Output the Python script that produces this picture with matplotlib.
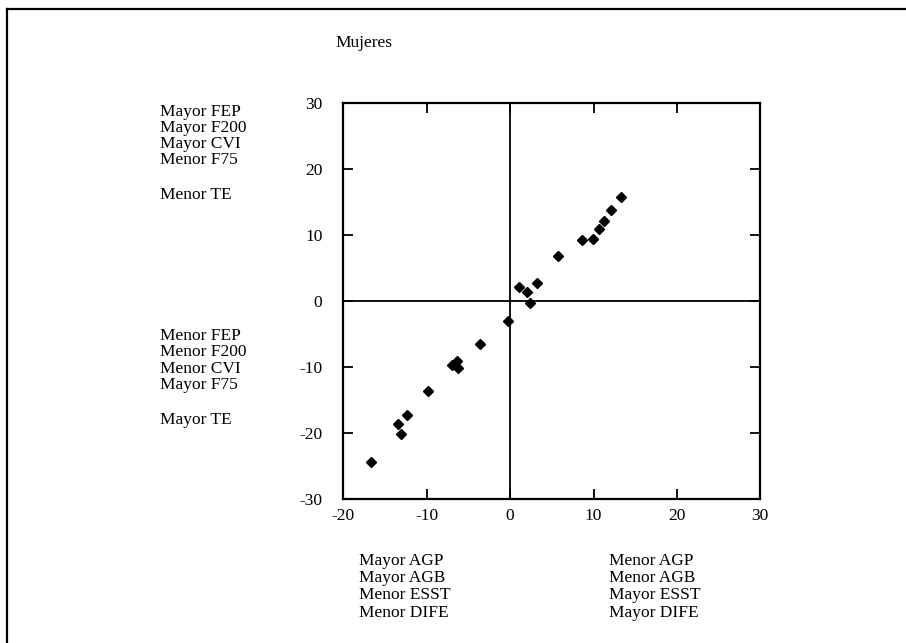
import matplotlib
matplotlib.use("Agg")
import matplotlib.pyplot as plt
from matplotlib.lines import Line2D

# ---- data ----
x_vals = [13.3, 12.06, 11.2, 10.6, 9.9, 8.66, 5.74, 3.19, 1.03, 2.06, 2.35,
          -0.3, -3.61, -6.33, -6.93, -6.25, -9.88, -12.33, -13.48, -13.08, -16.64]
y_vals = [15.7, 13.8, 12.15, 10.85, 9.4, 9.2, 6.85, 2.7, 2.16, 1.3, -0.26,
          -2.98, -6.5, -9.12, -9.68, -10.18, -13.57, -17.29, -18.65, -20.17, -24.4]
x_ticks = [-20, -10, 0, 10, 20, 30]
y_ticks = [-30, -20, -10, 0, 10, 20, 30]
title = "Mujeres"
left_top = ["Mayor FEP", "Mayor F200", "Mayor CVI", "Menor F75"]
left_top2 = "Menor TE"
left_bot = ["Menor FEP", "Menor F200", "Menor CVI", "Mayor F75"]
left_bot2 = "Mayor TE"
bottom_left = ["Mayor AGP", "Mayor AGB", "Menor ESST", "Menor DIFE"]
bottom_right = ["Menor AGP", "Menor AGB", "Mayor ESST", "Mayor DIFE"]

plt.rcParams['font.family'] = ['Liberation Serif', 'DejaVu Serif']
FS = 12.5
W, H = 906, 643

fig = plt.figure(figsize=(W / 100, H / 100), dpi=100)
ax = fig.add_axes([343.3 / W, 1 - 499.3 / H, (760.3 - 343.3) / W, (499.3 - 102.7) / H])

ax.set_xlim(-20, 30)
ax.set_ylim(-30, 30)
ax.axhline(0, color='black', lw=1.3, zorder=1)
ax.axvline(0, color='black', lw=1.3, zorder=1)
ax.plot(x_vals, y_vals, linestyle='none', marker='D', markersize=4.6,
        color='black', zorder=3)

ax.set_xticks(x_ticks)
ax.set_yticks(y_ticks)
ax.set_xticklabels([str(v) for v in x_ticks], fontsize=FS)
ax.set_yticklabels([str(v) for v in y_ticks], fontsize=FS)
ax.tick_params(axis='x', direction='in', length=7, width=1.3, top=True,
               bottom=True, pad=6)
ax.tick_params(axis='y', direction='in', length=7, width=1.3, left=True,
               right=True, pad=15)
for s in ax.spines.values():
    s.set_linewidth(1.6)

def ftext(px, py, s, **kw):
    fig.text(px / W, 1 - py / H, s, fontsize=FS, va='center', ha='left', **kw)

ftext(335, 43, title)
for i, s in enumerate(left_top):
    ftext(160, 111.7 + i * 16.1, s)
ftext(160, 195, left_top2)
for i, s in enumerate(left_bot):
    ftext(160, 336 + i * 16.3, s)
ftext(160, 420, left_bot2)
for i, s in enumerate(bottom_left):
    ftext(359, 561 + i * 17.2, s)
for i, s in enumerate(bottom_right):
    ftext(609, 561 + i * 17.2, s)

# outer frame (top and left edges)
fig.add_artist(Line2D([7 / W, 1.0], [1 - 9 / H, 1 - 9 / H], color='black',
                      lw=1.6, transform=fig.transFigure))
fig.add_artist(Line2D([7 / W, 7 / W], [0.0, 1 - 9 / H], color='black',
                      lw=1.6, transform=fig.transFigure))

fig.savefig("out.png", dpi=100, facecolor='white')
